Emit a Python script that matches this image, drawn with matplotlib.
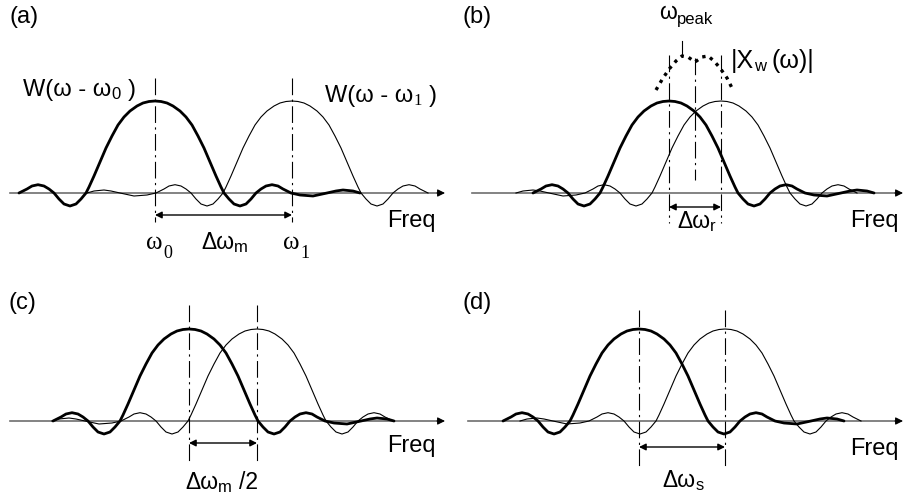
import matplotlib.pyplot as plt

# window shape W(w): offset from centre and height (px)
# the small tail is only on the + side (thin curves are mirrored)
kern_off = [-136, -128, -123, -117, -111, -106, -101, -96, -91, -85, -79, -74, -69,
            -66, -61, -55, -49, -43, -37, -31, -25, -18, -12, -6, 0,
            6, 12, 18, 25, 31, 37, 43, 49, 55, 61, 66, 69,
            74, 79, 85, 91, 96, 101, 106, 111, 117, 123, 128, 136,
            145, 158, 172, 181, 188, 198, 205]
kern_h = [0, 4, 7, 8.3, 7, 4, 0, -6, -11, -13, -11, -6, 0,
          6, 17, 31, 45, 57, 68, 76, 82, 87, 90, 91.5, 92,
          91.5, 90, 87, 82, 76, 68, 57, 45, 31, 17, 6, 0,
          -6, -11, -13, -11, -6, 0, 4, 7, 8.3, 7, 4, 0,
          -2, -3, 0, 2, 3, 2, 0]

# panel layout (pixels): frequency of the two components and baseline
panels = ['(a)', '(b)', '(c)', '(d)']
w_bold = [155, 669, 189, 639]
w_thin = [292, 721, 257, 725]
base_y = [193, 193, 421, 421]
axis_x = [(10, 445), (472, 903), (10, 445), (468, 903)]
vline_y = [(78, 222), (55, 223), (305, 463), (310, 468)]
arrow_y = [215, 207, 443, 447]

# |Xw(w)| dotted envelope in (b): offset from midpoint, height above baseline
xw_off = [-39, -32, -25, -19, -13, -7, 0, 7, 13, 19, 25, 32, 38]
xw_h = [103, 115, 125, 132, 137, 136, 131, 136, 137, 132, 125, 115, 103]

SANS = 'Liberation Sans'
SERIF = 'Liberation Serif'
GREY = '#6e6e6e'
BIG = 17
SUB = 12

fig = plt.figure(figsize=(9.05, 5.01), dpi=100)
ax = fig.add_axes([0, 0, 1, 1])
ax.set_xlim(0, 905)
ax.set_ylim(501, 0)
ax.axis('off')
renderer = fig.canvas.get_renderer()


def rich(x, y, parts):
    # parts: (text, size, family, dy, gap)
    for s, size, fam, dy, gap in parts:
        t = ax.text(x, y + dy, s, fontsize=size, family=fam, va='baseline', ha='left')
        x += t.get_window_extent(renderer).width + gap


dashdot = (0, (15, 4, 2, 4))

for i in range(4):
    y0 = base_y[i]
    x1, x2 = axis_x[i]
    ax.plot([x1, x2 - 6], [y0, y0], color=GREY, lw=1.2, zorder=1)
    ax.annotate('', xy=(x2, y0), xytext=(x2 - 8, y0),
                arrowprops=dict(arrowstyle='-|>', color='black', lw=0.8,
                                mutation_scale=11, shrinkA=0, shrinkB=0))
    bx = [w_bold[i] + o for o in kern_off]
    tx = [w_thin[i] - o for o in kern_off]
    yy = [y0 - h for h in kern_h]
    ax.plot(tx, yy, color='black', lw=0.8, zorder=3)
    ax.plot(bx, yy, color='black', lw=2.0, zorder=4, solid_capstyle='round')
    for xc in (w_bold[i], w_thin[i]):
        ax.plot([xc, xc], vline_y[i], color='black', lw=0.8, ls=dashdot, zorder=2)
    ax.annotate('', xy=(w_thin[i], arrow_y[i]), xytext=(w_bold[i], arrow_y[i]),
                arrowprops=dict(arrowstyle='<|-|>', color='black', lw=1.0,
                                mutation_scale=10, shrinkA=0, shrinkB=0))

# panel (b) extras
mid = (w_bold[1] + w_thin[1]) / 2
ax.plot([mid, mid], [58, 180], color='black', lw=0.8, ls=dashdot, zorder=2)
ax.plot([mid + o for o in xw_off], [base_y[1] - h for h in xw_h],
        color='black', lw=2.4, ls=(0, (1.0, 1.5)), zorder=4)
ax.plot([682, 682], [41, 54], color='black', lw=0.8)

# panel letters
ax.text(9, 23, '(a)', fontsize=BIG, family=SANS, va='baseline')
ax.text(462, 23, '(b)', fontsize=BIG, family=SANS, va='baseline')
ax.text(8, 309, '(c)', fontsize=BIG, family=SANS, va='baseline')
ax.text(462, 309, '(d)', fontsize=BIG, family=SANS, va='baseline')

# Freq labels
for fx, fy in [(387, 227), (850, 227), (387, 452), (850, 455)]:
    ax.text(fx, fy, 'Freq', fontsize=BIG, family=SANS, va='baseline')

# panel (a) labels
rich(23, 96, [('W(ω - ω', BIG, SANS, 0, 0), ('0', SUB, SANS, 3, 7), (')', BIG, SANS, 0, 0)])
rich(325, 102, [('W(ω - ω', BIG, SANS, 0, 0), ('1', SUB, SERIF, 3, 7), (')', BIG, SANS, 0, 0)])
rich(146, 249, [('ω', 18, SERIF, 0, 1), ('0', 13, SERIF, 9, 0)])
rich(283, 249, [('ω', 18, SERIF, 0, 1), ('1', 13, SERIF, 9, 0)])
rich(201, 249, [('Δω', 16.5, SANS, 0, 0), ('m', SUB, SANS, 3, 0)])

# panel (b) labels
rich(659, 19, [('ω', 16.5, SANS, 0, 0), ('peak', SUB, SANS, 5, 0)])
rich(731, 68, [('|X', 18, SANS, 0, 0), ('w', SUB, SANS, 3, 5), ('(ω)|', 18, SANS, 0, 0)])
rich(677, 228, [('Δω', 16.5, SANS, 0, 0), ('r', SUB, SANS, 3, 0)])

# panel (c), (d) labels
rich(185, 489, [('Δω', 16.5, SANS, 0, 0), ('m', SUB, SANS, 3, 7), ('/2', 16.5, SANS, 0, 0)])
rich(662, 487, [('Δω', 16.5, SANS, 0, 0), ('s', SUB, SANS, 3, 0)])

fig.savefig('out.png', dpi=100)
